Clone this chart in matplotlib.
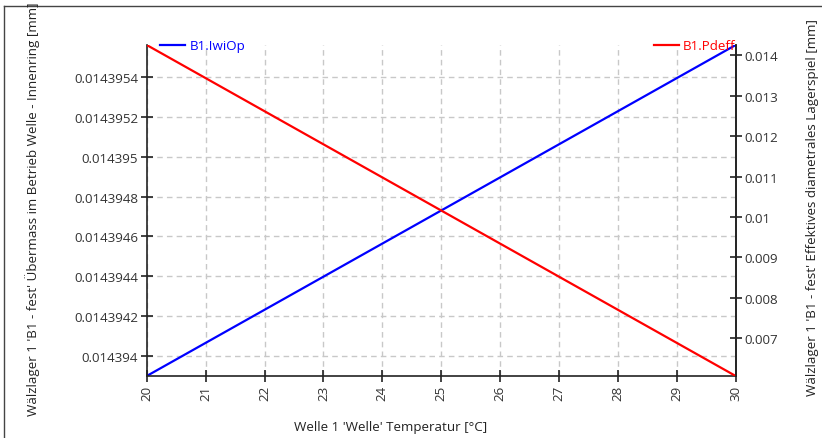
import matplotlib
matplotlib.use("Agg")
import matplotlib.pyplot as plt
from matplotlib.lines import Line2D
from matplotlib.ticker import FuncFormatter

plt.rcParams["font.family"] = ["Open Sans", "DejaVu Sans"]
plt.rcParams["font.size"] = 9.6

# data
temperature = [20, 30]
iwiop = [0.0143939, 0.01439556]      # left axis, B1.IwiOp
pdeff = [0.01425, 0.00607]           # right axis, B1.Pdeff

x_ticks = [20, 21, 22, 23, 24, 25, 26, 27, 28, 29, 30]
left_ticks = [0.014394, 0.0143942, 0.0143944, 0.0143946,
              0.0143948, 0.014395, 0.0143952, 0.0143954]
right_ticks = [0.007, 0.008, 0.009, 0.010, 0.011, 0.012, 0.013, 0.014]

x_label = "Welle 1 'Welle' Temperatur [°C]"
left_label = "Wälzlager 1 'B1 - fest' Übermass im Betrieb Welle - Innenring [mm]"
right_label = "Wälzlager 1 'B1 - fest' Effektives diametrales Lagerspiel [mm]"

W, H = 822, 439
fig = plt.figure(figsize=(W / 100, H / 100), dpi=100)
ax = fig.add_axes([146.7 / W, 1 - 377 / H, (735.7 - 146.7) / W, (377 - 46) / H])
ax2 = ax.twinx()

fmt = FuncFormatter(lambda v, p: "{:g}".format(round(v, 10)))

l1, = ax.plot(temperature, iwiop, color="#0000ff", lw=1.6, label="B1.IwiOp")
l2, = ax2.plot(temperature, pdeff, color="#ff0000", lw=1.6, label="B1.Pdeff")

ax.set_xlim(20, 30)
ax.set_ylim(iwiop[0], iwiop[1])
ax2.set_ylim(pdeff[1], pdeff[0])

ax.set_xticks(x_ticks)
ax.set_xticklabels([str(t) for t in x_ticks], rotation=90)
ax.set_yticks(left_ticks)
ax.yaxis.set_major_formatter(fmt)
ax2.set_yticks(right_ticks)
ax2.yaxis.set_major_formatter(fmt)

for a in (ax, ax2):
    a.spines["top"].set_visible(False)
    for s in a.spines.values():
        s.set_color("#222222")
        s.set_linewidth(1.2)
    a.tick_params(direction="inout", length=8.5, width=1.2, colors="#222222",
                  labelcolor="#333333", labelsize=9.6, pad=2)
ax2.spines["left"].set_visible(False)
ax2.spines["bottom"].set_visible(False)

ax.grid(True, color="#c8c8c8", linestyle=(0, (4, 3)), linewidth=1)
ax.set_axisbelow(True)

leg1 = ax.legend(handles=[l1], loc="lower left", bbox_to_anchor=(0.022, 0.978),
                 frameon=False, labelcolor="linecolor", handlelength=1.9,
                 handletextpad=0.35, borderpad=0, borderaxespad=0)
leg2 = ax2.legend(handles=[l2], loc="lower right", bbox_to_anchor=(1.0, 0.978),
                  frameon=False, labelcolor="linecolor", handlelength=1.9,
                  handletextpad=0.3, borderpad=0, borderaxespad=0)

fig.text(391 / W, 1 - 428 / H, x_label, ha="center", va="center",
         color="#222222")
fig.text(33 / W, 1 - 416 / H, left_label, rotation=90, ha="center",
         va="bottom", color="#222222")
fig.text(812 / W, 1 - 207.5 / H, right_label, rotation=90, ha="center",
         va="center", color="#222222")

# window frame from the screenshot
fig.add_artist(Line2D([4 / W, 1], [1 - 7 / H, 1 - 7 / H], color="#444444", lw=1))
fig.add_artist(Line2D([4 / W, 4 / W], [0, 1 - 7 / H], color="#444444", lw=1))

fig.savefig("out.png", dpi=100)
